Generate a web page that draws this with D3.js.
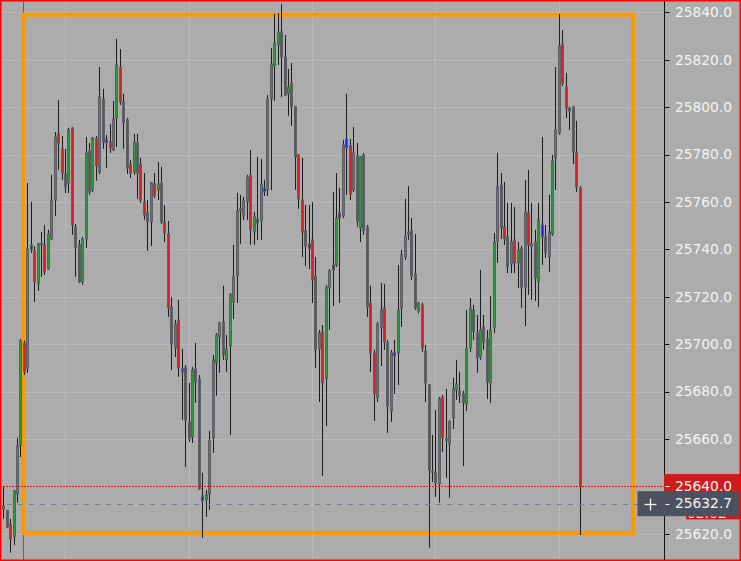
<!DOCTYPE html>
<html><head><meta charset="utf-8">
<script src="https://cdn.jsdelivr.net/npm/d3@7"></script>
<style>html,body{margin:0;padding:0;background:#acacac;overflow:hidden}</style>
</head><body><svg id="c" width="741" height="561"></svg>
<script>
// ---- data (prices) ----
const opens = [25631.8,25629.8,25623.8,25618.8,25636.8,25657.1,25700.5,25690.0,25739.8,25739.3,
25725.4,25742.5,25741.9,25731.7,25744.4,25760.8,25788.7,25782.4,25771.8,25768.0,
25791.2,25749.5,25741.9,25726.3,25744.4,25781.5,25765.1,25786.6,25772.6,25803.4,
25786.6,25785.3,25781.9,25795.4,25816.9,25802.2,25794.6,25775.6,25772.6,25784.9,
25776.0,25760.0,25755.4,25751.6,25767.6,25765.1,25768.0,25751.6,25746.5,25715.7,
25698.4,25710.2,25689.6,25690.0,25667.2,25660.9,25689.6,25685.3,25636.0,25634.3,
25636.8,25660.5,25692.1,25703.0,25709.4,25693.4,25699.2,25717.8,25728.8,25756.2,
25754.1,25760.0,25771.4,25747.3,25752.8,25752.0,25765.9,25765.1,25803.4,25817.4,
25826.2,25831.7,25821.2,25805.6,25810.2,25800.1,25779.8,25760.8,25747.8,25742.3,
25744.0,25728.4,25698.0,25705.2,25685.3,25724.1,25733.4,25733.4,25755.4,25754.1,
25786.6,25783.6,25765.1,25779.4,25749.0,25779.8,25749.5,25717.4,25696.3,25677.7,
25706.8,25715.3,25700.5,25671.8,25696.7,25696.3,25715.3,25736.8,25747.3,25747.8,
25729.6,25714.0,25716.6,25697.1,25682.8,25646.5,25645.7,25641.1,25677.7,25660.0,
25657.9,25668.9,25680.7,25680.3,25679.0,25674.8,25698.4,25714.4,25704.7,25694.6,
25707.3,25702.2,25683.7,25707.3,25743.5,25767.2,25749.5,25745.2,25733.8,25744.0,
25734.3,25740.2,25724.1,25755.4,25742.3,25743.1,25726.3,25750.3,25745.2,25736.8,
25746.5,25778.6,25789.1,25826.6,25808.5,25799.6,25800.1,25780.7,25765.9];
const highs = [25639.8,25630.0,25626.3,25638.5,25660.5,25702.2,25701.5,25768.0,25760.0,25741.4,
25742.7,25747.3,25750.3,25748.2,25771.4,25789.5,25803.0,25787.8,25782.4,25791.2,
25791.6,25750.7,25744.0,25745.2,25787.4,25784.9,25787.4,25787.8,25816.9,25807.7,
25788.3,25792.9,25802.6,25828.8,25824.5,25805.6,25795.4,25777.7,25788.7,25788.7,
25778.6,25772.2,25760.8,25768.4,25772.2,25776.9,25774.8,25758.7,25752.0,25719.9,
25710.2,25718.7,25698.0,25691.2,25683.7,25690.4,25700.5,25687.0,25645.7,25638.5,
25663.4,25695.5,25704.7,25709.4,25724.6,25703.9,25721.6,25741.9,25763.8,25763.0,
25762.1,25771.4,25781.9,25755.8,25779.0,25778.1,25769.3,25805.1,25825.0,25839.3,
25839.7,25843.5,25830.4,25816.1,25818.6,25800.5,25780.2,25778.6,25758.7,25758.7,
25760.0,25736.8,25706.0,25708.1,25725.0,25731.7,25764.2,25772.2,25765.9,25786.2,
25805.6,25786.6,25791.6,25784.9,25779.4,25780.7,25750.3,25724.6,25697.6,25709.4,
25725.8,25725.4,25701.8,25697.6,25701.8,25733.4,25739.8,25761.3,25766.7,25753.2,
25746.5,25717.8,25717.4,25699.7,25683.2,25661.7,25672.3,25677.7,25678.6,25681.1,
25668.0,25685.8,25693.4,25688.3,25680.3,25714.4,25719.5,25716.6,25712.3,25731.3,
25712.3,25706.0,25720.4,25746.9,25780.7,25772.2,25768.4,25759.6,25759.6,25757.9,
25743.1,25741.4,25769.3,25773.5,25759.6,25748.2,25759.6,25787.4,25750.3,25763.0,
25779.8,25816.9,25839.3,25832.5,25814.4,25800.1,25800.5,25794.2,25766.7];
const lows = [25626.3,25622.5,25612.0,25615.3,25633.1,25652.4,25687.0,25687.9,25738.5,25717.8,
25722.5,25728.4,25729.2,25731.3,25744.0,25754.1,25773.5,25769.3,25763.8,25763.8,
25746.1,25728.4,25725.8,25725.0,25740.6,25763.0,25764.2,25768.9,25771.8,25782.4,
25774.3,25780.7,25781.5,25783.2,25800.9,25782.4,25771.8,25770.1,25771.4,25761.3,
25759.6,25752.4,25739.3,25741.4,25761.7,25760.8,25750.7,25743.1,25711.5,25689.1,
25694.6,25686.2,25668.0,25648.2,25658.8,25658.3,25675.2,25638.5,25618.3,25627.1,
25630.1,25654.1,25678.2,25687.9,25693.4,25688.3,25661.7,25710.6,25717.4,25742.3,
25752.4,25752.4,25741.9,25741.9,25744.0,25744.0,25762.5,25762.5,25765.0,25802.6,
25817.8,25804.3,25804.7,25796.3,25792.1,25765.1,25757.1,25736.8,25733.0,25731.7,
25717.4,25690.0,25675.6,25644.4,25665.5,25706.0,25716.1,25732.6,25717.4,25753.2,
25763.0,25760.8,25764.2,25749.5,25743.1,25746.1,25711.5,25688.3,25667.6,25675.6,
25690.8,25697.6,25662.6,25667.2,25679.0,25682.8,25707.3,25735.5,25744.0,25727.1,
25714.4,25713.0,25696.7,25675.6,25614.1,25641.9,25635.6,25633.1,25654.5,25643.6,
25635.2,25664.2,25676.5,25675.2,25648.6,25671.8,25696.7,25701.8,25687.9,25693.4,
25697.6,25676.9,25675.2,25704.7,25734.3,25744.4,25741.9,25730.0,25730.0,25730.0,
25723.7,25715.3,25707.7,25720.8,25718.7,25718.2,25715.7,25733.4,25736.4,25730.5,
25745.7,25765.1,25788.3,25808.9,25795.4,25790.4,25776.0,25764.2,25619.5];
const closes = [25630.5,25623.0,25617.9,25638.1,25657.1,25701.4,25688.3,25740.2,25741.9,25726.3,
25742.3,25742.0,25730.5,25746.5,25760.8,25787.4,25784.9,25772.2,25766.3,25790.4,
25750.3,25741.0,25726.3,25744.4,25780.7,25764.2,25787.0,25775.2,25804.3,25785.3,
25784.9,25782.8,25795.0,25817.8,25802.2,25793.7,25774.3,25772.2,25785.3,25772.2,
25760.8,25754.5,25751.6,25768.0,25762.5,25767.6,25751.6,25746.9,25715.3,25700.1,
25708.5,25690.0,25688.3,25668.0,25660.0,25689.1,25684.1,25638.9,25633.9,25636.4,
25659.2,25693.4,25703.9,25708.9,25695.5,25698.0,25720.8,25728.4,25756.2,25757.1,
25760.4,25770.5,25748.2,25753.7,25751.1,25767.6,25764.2,25803.4,25818.2,25827.1,
25831.3,25821.2,25805.1,25808.5,25800.1,25779.0,25761.3,25747.3,25741.4,25740.2,
25727.1,25697.6,25704.7,25683.7,25724.1,25730.9,25731.3,25753.2,25753.2,25784.0,
25782.8,25763.4,25780.7,25752.0,25779.0,25747.8,25715.7,25696.3,25679.0,25708.5,
25714.4,25700.9,25673.9,25696.3,25695.0,25714.4,25737.6,25745.7,25746.5,25728.8,
25715.3,25717.4,25698.4,25683.7,25646.9,25646.0,25641.5,25676.9,25660.5,25659.2,
25667.2,25681.1,25683.2,25678.2,25675.2,25698.0,25715.3,25705.2,25694.2,25706.0,
25700.9,25684.1,25706.0,25743.1,25766.3,25749.0,25744.4,25732.6,25743.1,25734.3,
25739.8,25724.1,25755.8,25741.9,25741.4,25727.9,25752.4,25745.2,25738.5,25747.3,
25777.3,25790.4,25825.8,25809.8,25799.6,25798.4,25781.1,25766.3,25640.0];
// bars drawn with the blue (marked) body colour
const markedBars = [8,11,30,52,58,69,74,76,89,96,98,100,114,118,125,129,154,157,165];
// price axis ticks
const priceTicks = [25620,25640,25660,25680,25700,25720,25740,25760,25780,25800,25820,25840];
// time grid bars (unlabelled vertical grid)
const timeGridBars = [18,54,90,126,162];
// drawn rectangle object (bar index range, price range)
const boxStartBar = 5.75, boxEndBar = 183.6, boxTop = 25839.0, boxBottom = 25620.4;
const lastPrice = 25640.0, bidPrice = 25632.7;
const timerText = "02:02";

// ---- drawing ----
const W = 741, H = 561, axisX = 664.5;
const svg = d3.select("#c");
const x = d3.scaleLinear().domain([0, opens.length - 1]).range([3.3, 579.5]);
const y = d3.scaleLinear().domain([25620, 25840]).range([533.8, 12.3]);
const px = i => Math.round(x(i)) + 0.5;

svg.append("rect").attr("width", W).attr("height", H).attr("fill", "#acacac");

// grid
const grid = svg.append("g").attr("stroke", "#b9b9b9").attr("stroke-width", 1);
grid.selectAll("line.h").data(priceTicks).join("line")
  .attr("x1", 0).attr("x2", axisX).attr("y1", d => Math.round(y(d)) + 0.5).attr("y2", d => Math.round(y(d)) + 0.5);
grid.selectAll("line.v").data(timeGridBars).join("line")
  .attr("y1", 0).attr("y2", H).attr("x1", d => px(d)).attr("x2", d => px(d));

// purple vertical line at rectangle start
svg.append("line").attr("x1", Math.round(x(boxStartBar)) + 0.5).attr("x2", Math.round(x(boxStartBar)) + 0.5)
  .attr("y1", 0).attr("y2", H).attr("stroke", "#8a3fc4").attr("stroke-width", 1);

// orange rectangle
svg.append("rect")
  .attr("x", x(boxStartBar)).attr("y", y(boxTop))
  .attr("width", x(boxEndBar) - x(boxStartBar)).attr("height", y(boxBottom) - y(boxTop))
  .attr("fill", "none").attr("stroke", "#ff9900").attr("stroke-width", 4);

// candles
const bars = d3.range(opens.length).map(i => ({i, o: opens[i], h: highs[i], l: lows[i], c: closes[i], m: markedBars.includes(i)}));
const cg = svg.append("g");
cg.selectAll("line").data(bars).join("line")
  .attr("x1", d => px(d.i)).attr("x2", d => px(d.i))
  .attr("y1", d => y(d.h)).attr("y2", d => y(d.l))
  .attr("stroke", "#1c1c1c").attr("stroke-width", 1);
cg.selectAll("rect").data(bars).join("rect")
  .attr("x", d => px(d.i) - 1).attr("width", 2)
  .attr("y", d => y(Math.max(d.o, d.c)))
  .attr("height", d => Math.max(1.5, Math.abs(y(d.o) - y(d.c))))
  .attr("fill", d => d.m ? "#1212f0" : (d.c >= d.o ? "#2f9a3a" : "#d42222"))
  .attr("stroke", "#5d6166").attr("stroke-width", 1);

// last price dotted line and bid dashed line
svg.append("line").attr("x1", 0).attr("x2", axisX)
  .attr("y1", Math.round(y(lastPrice)) + 0.5).attr("y2", Math.round(y(lastPrice)) + 0.5)
  .attr("stroke", "#c81e1e").attr("stroke-width", 1).attr("stroke-dasharray", "2,1");
svg.append("line").attr("x1", 7).attr("x2", 638)
  .attr("y1", Math.round(y(bidPrice)) + 0.5).attr("y2", Math.round(y(bidPrice)) + 0.5)
  .attr("stroke", "#71849a").attr("stroke-width", 1).attr("stroke-dasharray", "5,6");

// price axis
svg.append("line").attr("x1", axisX).attr("x2", axisX).attr("y1", 0).attr("y2", H)
  .attr("stroke", "#111").attr("stroke-width", 1);
const ax = svg.append("g");
ax.selectAll("line").data(priceTicks).join("line")
  .attr("x1", axisX).attr("x2", axisX + 5)
  .attr("y1", d => Math.round(y(d)) + 0.5).attr("y2", d => Math.round(y(d)) + 0.5)
  .attr("stroke", "#111");
const fmt = d3.format(".1f");
const fontFam = "'DejaVu Sans', Verdana, sans-serif";
const fs = 13.8;
ax.selectAll("text").data(priceTicks).join("text")
  .attr("x", 675).attr("y", d => y(d) + 4.8)
  .attr("fill", "#f4f4f4").attr("font-family", fontFam).attr("font-size", fs)
  .text(d => fmt(d));

// last price label (red) with timer part
const ly = y(lastPrice);
const by = y(bidPrice);
svg.append("rect").attr("x", 686).attr("y", ly).attr("width", W - 686).attr("height", 33).attr("fill", "#cc1c1c");
svg.append("clipPath").attr("id", "timerClip").append("rect")
  .attr("x", 686).attr("y", by + 12.5).attr("width", W - 686).attr("height", H - by - 12.5);
svg.append("g").attr("clip-path", "url(#timerClip)")
  .append("text").attr("x", 687).attr("y", ly + 31.5).attr("fill", "#f4f4f4")
  .attr("font-family", fontFam).attr("font-size", fs).text(timerText);
svg.append("rect").attr("x", axisX - 0.5).attr("y", ly - 12.3).attr("width", W - axisX + 0.5).attr("height", 24).attr("fill", "#cc1c1c");
svg.append("line").attr("x1", axisX + 1).attr("x2", axisX + 5).attr("y1", Math.round(ly) + 0.5).attr("y2", Math.round(ly) + 0.5).attr("stroke", "#f4f4f4");
svg.append("text").attr("x", 675).attr("y", ly + 4.8).attr("fill", "#f4f4f4")
  .attr("font-family", fontFam).attr("font-size", fs).text(fmt(lastPrice));

// bid label (dark grey) with crosshair button
svg.append("rect").attr("x", 637.5).attr("y", by - 12.5).attr("width", W - 637.5).attr("height", 25).attr("fill", "#4b525d");
const cx0 = 650.5, cy0 = Math.round(by) + 0.5;
svg.append("line").attr("x1", cx0 - 6).attr("x2", cx0 + 6).attr("y1", cy0).attr("y2", cy0).attr("stroke", "#f4f4f4").attr("stroke-width", 1.3);
svg.append("line").attr("x1", cx0).attr("x2", cx0).attr("y1", cy0 - 6).attr("y2", cy0 + 6).attr("stroke", "#f4f4f4").attr("stroke-width", 1.3);
svg.append("line").attr("x1", axisX + 1).attr("x2", axisX + 5).attr("y1", cy0).attr("y2", cy0).attr("stroke", "#f4f4f4");
svg.append("text").attr("x", 675).attr("y", by + 4.8).attr("fill", "#f4f4f4")
  .attr("font-family", fontFam).attr("font-size", fs).text(fmt(bidPrice));

// outer red frame
svg.append("rect").attr("x", 0.75).attr("y", 0.75).attr("width", W - 1.5).attr("height", H - 1.5)
  .attr("fill", "none").attr("stroke", "#ff0000").attr("stroke-width", 1.5);
</script></body></html>
